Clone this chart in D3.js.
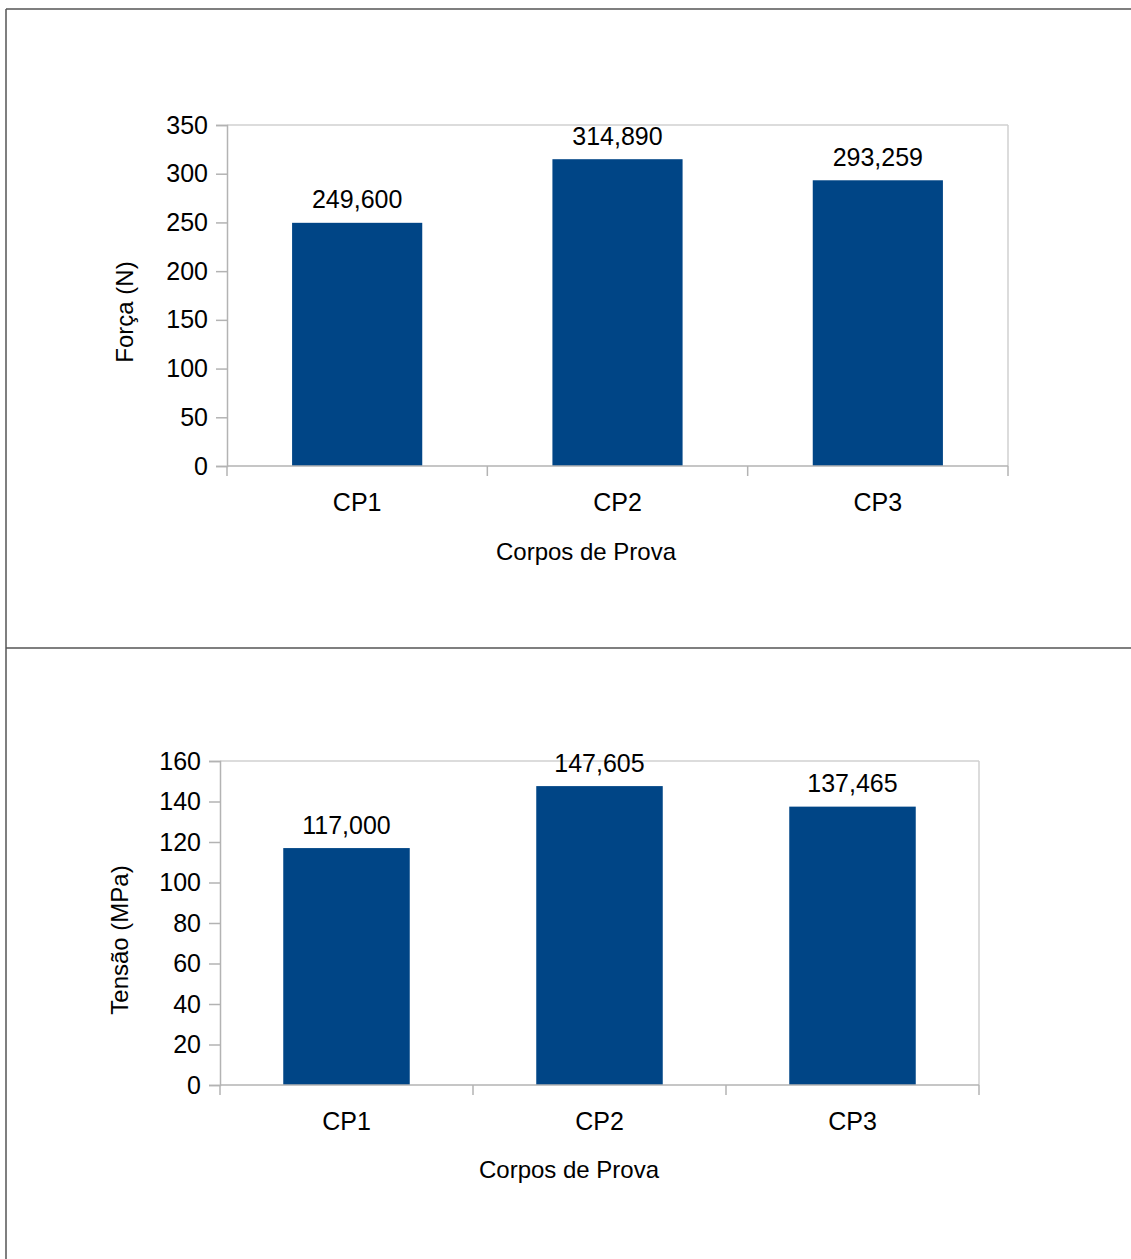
<!DOCTYPE html>
<html>
<head>
<meta charset="utf-8">
<script src="https://cdn.jsdelivr.net/npm/d3@7"></script>
<style>
  html, body { margin: 0; padding: 0; background: #fff; }
  svg { display: block; font-family: "Liberation Sans", Arial, sans-serif; }
</style>
</head>
<body>
<svg id="chart" width="1131" height="1259"></svg>
<script>
// Specimens tested
const categories = ["CP1", "CP2", "CP3"];

// Maximum load per specimen (N)
const forceValues = [249.600, 314.890, 293.259];
const forceTicks = [0, 50, 100, 150, 200, 250, 300, 350];

// Tensile stress per specimen (MPa)
const stressValues = [117.000, 147.605, 137.465];
const stressTicks = [0, 20, 40, 60, 80, 100, 120, 140, 160];

const xTitle = "Corpos de Prova";
const forceTitle = "Força (N)";
const stressTitle = "Tensão (MPa)";

const barColor = "#004586";
const axisColor = "#b3b3b3";
const frameColor = "#d0d0d0";
const labelSize = 25;
const titleSize = 24;

const svg = d3.select("#chart");

// Outer page frame and divider between the two charts
const frame = svg.append("g").attr("stroke", "#555").attr("stroke-width", 1.5).attr("fill", "none");
frame.append("line").attr("x1", 6).attr("x2", 1131).attr("y1", 9).attr("y2", 9);
frame.append("line").attr("x1", 6).attr("x2", 6).attr("y1", 9).attr("y2", 1259);
frame.append("line").attr("x1", 6).attr("x2", 1131).attr("y1", 648).attr("y2", 648);

// Decimal comma with three places, e.g. 249,600
const fmt = v => d3.format(".3f")(v).replace(".", ",");

function drawChart(opts) {
  const { left, right, top, bottom, values, ticks, yTitle, yTitlePos, xTitlePos } = opts;
  const g = svg.append("g");

  const x = d3.scaleBand().domain(categories).range([left, right]).paddingInner(0.5).paddingOuter(0.25);
  const y = d3.scaleLinear().domain([0, d3.max(ticks)]).range([bottom, top]);

  // Plot frame: light top and right edges
  g.append("line").attr("x1", left).attr("x2", right).attr("y1", top).attr("y2", top)
    .attr("stroke", frameColor).attr("stroke-width", 1.5);
  g.append("line").attr("x1", right).attr("x2", right).attr("y1", top).attr("y2", bottom)
    .attr("stroke", frameColor).attr("stroke-width", 1.5);

  // Bars
  g.selectAll("rect.bar").data(values).join("rect")
    .attr("class", "bar")
    .attr("x", (d, i) => x(categories[i]))
    .attr("width", x.bandwidth())
    .attr("y", d => y(d))
    .attr("height", d => y(0) - y(d))
    .attr("fill", barColor);

  // Value labels
  g.selectAll("text.val").data(values).join("text")
    .attr("class", "val")
    .attr("x", (d, i) => x(categories[i]) + x.bandwidth() / 2)
    .attr("y", d => y(d) - 14.5)
    .attr("text-anchor", "middle")
    .attr("font-size", labelSize)
    .attr("fill", "#000")
    .text(d => fmt(d));

  // Y axis
  const yAxis = g.append("g").attr("transform", `translate(${left},0)`)
    .call(d3.axisLeft(y).tickValues(ticks).tickSize(11).tickPadding(8).tickFormat(d3.format("d")));
  yAxis.select(".domain").attr("stroke", axisColor).attr("stroke-width", 1.5);
  yAxis.selectAll(".tick line").attr("stroke", axisColor).attr("stroke-width", 1.5);
  yAxis.selectAll(".tick text").attr("font-size", labelSize).attr("fill", "#000")
    .attr("font-family", "Liberation Sans, Arial, sans-serif");

  // X axis: baseline with boundary ticks between categories
  g.append("line").attr("x1", left).attr("x2", right).attr("y1", bottom).attr("y2", bottom)
    .attr("stroke", axisColor).attr("stroke-width", 1.5);
  const step = x.step();
  const bounds = d3.range(categories.length + 1).map(i => left + i * step);
  g.selectAll("line.cat").data(bounds).join("line")
    .attr("class", "cat")
    .attr("x1", d => d).attr("x2", d => d)
    .attr("y1", bottom).attr("y2", bottom + 10)
    .attr("stroke", axisColor).attr("stroke-width", 1.5);

  g.selectAll("text.cat").data(categories).join("text")
    .attr("class", "cat")
    .attr("x", d => x(d) + x.bandwidth() / 2)
    .attr("y", bottom + 45)
    .attr("text-anchor", "middle")
    .attr("font-size", labelSize)
    .attr("fill", "#000")
    .text(d => d);

  // Axis titles
  g.append("text")
    .attr("x", xTitlePos[0]).attr("y", xTitlePos[1])
    .attr("text-anchor", "middle")
    .attr("font-size", titleSize)
    .attr("fill", "#000")
    .text(xTitle);

  g.append("text")
    .attr("transform", `translate(${yTitlePos[0]},${yTitlePos[1]}) rotate(-90)`)
    .attr("text-anchor", "middle")
    .attr("dominant-baseline", "central")
    .attr("font-size", titleSize)
    .attr("fill", "#000")
    .text(yTitle);
}

drawChart({
  left: 227, right: 1008, top: 125, bottom: 466,
  values: forceValues, ticks: forceTicks,
  yTitle: forceTitle, yTitlePos: [124, 312], xTitlePos: [586, 560]
});

drawChart({
  left: 220, right: 979, top: 761, bottom: 1085,
  values: stressValues, ticks: stressTicks,
  yTitle: stressTitle, yTitlePos: [119, 940], xTitlePos: [569, 1178]
});
</script>
</body>
</html>
